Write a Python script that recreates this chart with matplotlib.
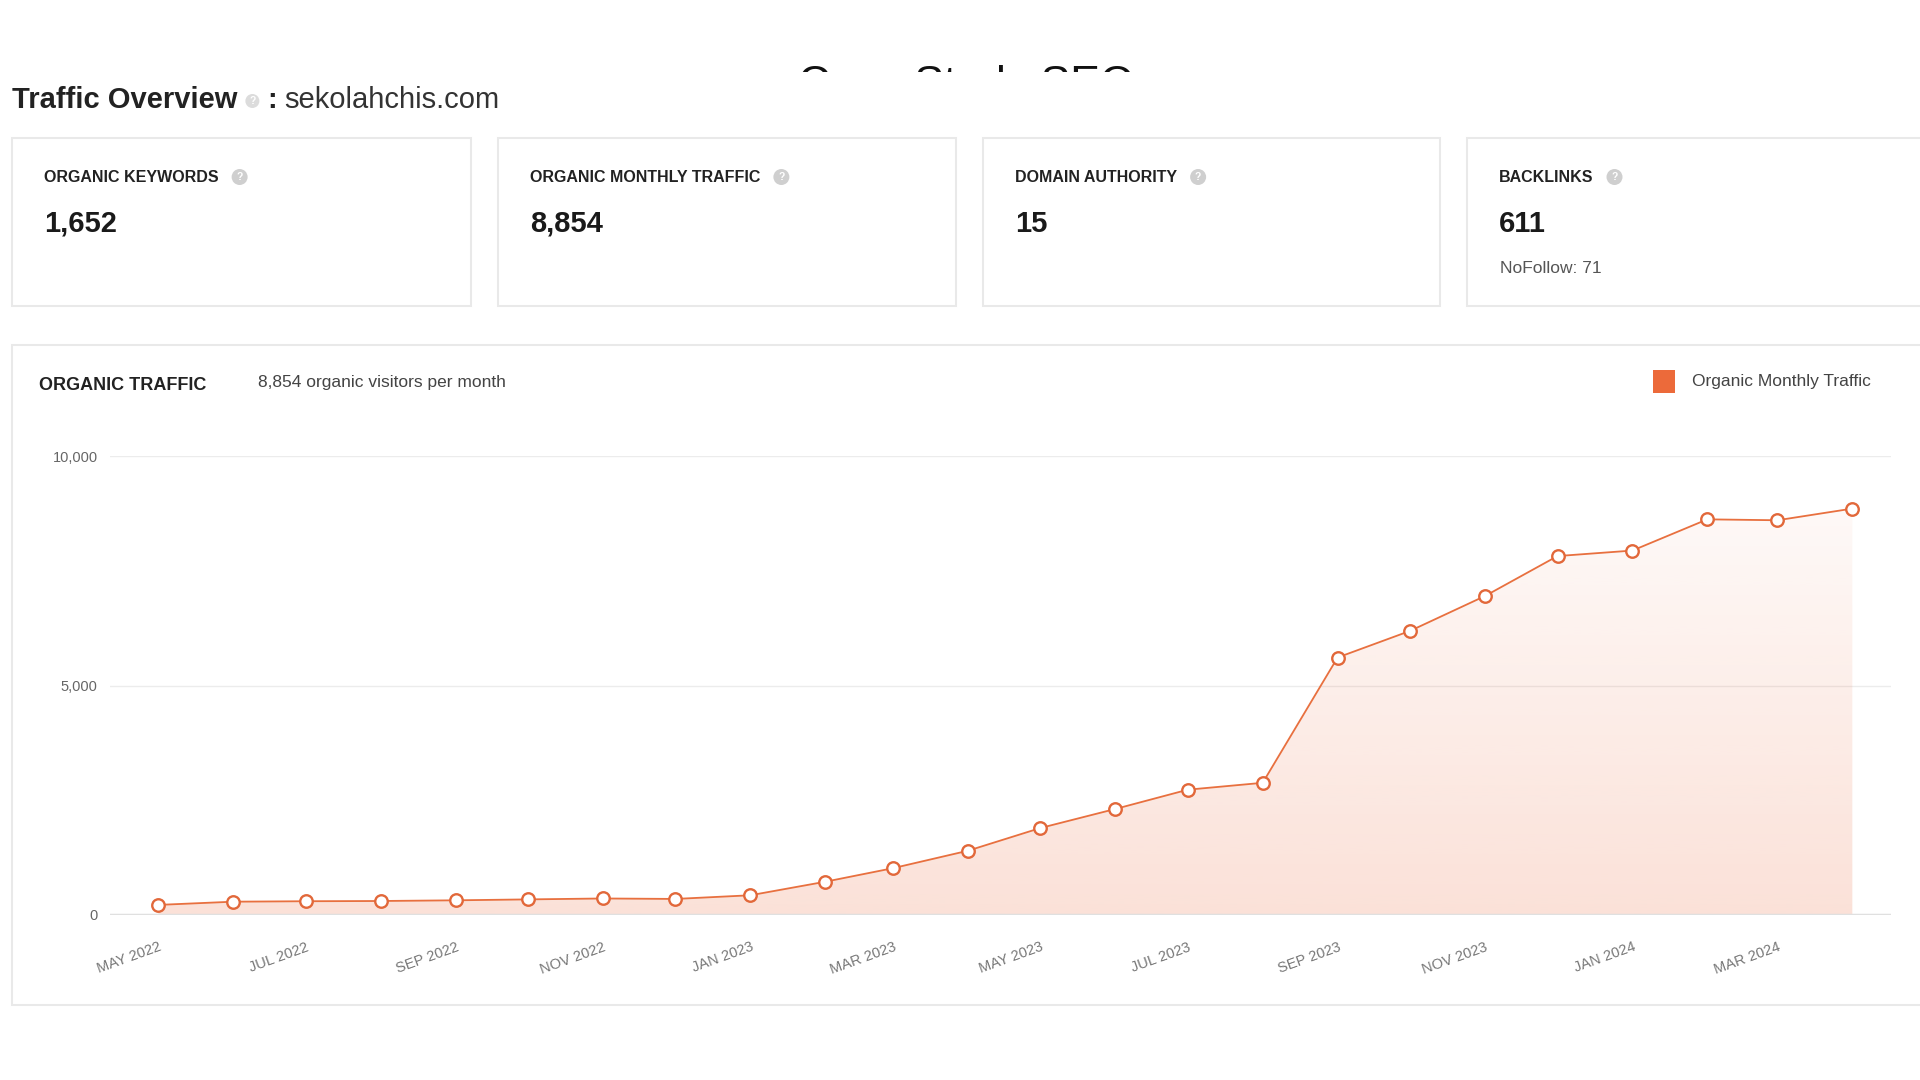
"""
  Ubersuggest-style traffic overview for sekolahchis.com
"""
import matplotlib
matplotlib.use('Agg')
import matplotlib.pyplot as plt
from matplotlib.patches import Rectangle, Circle
import matplotlib.dates as mdates
import numpy as np

plt.rcParams['font.family'] = ['Liberation Sans', 'DejaVu Sans']

# monthly organic traffic
months = ['2022-05', '2022-06', '2022-07', '2022-08', '2022-09', '2022-10',
          '2022-11', '2022-12', '2023-01', '2023-02', '2023-03', '2023-04',
          '2023-05', '2023-06', '2023-07', '2023-08', '2023-09', '2023-10',
          '2023-11', '2023-12', '2024-01', '2024-02', '2024-03', '2024-04']
traffic = [220, 290, 300, 305, 320, 340, 360, 350, 430, 725, 1020, 1400,
           1895, 2310, 2730, 2880, 5610, 6190, 6950, 7820, 7940, 8620, 8600, 8854]
tick_labels = ['MAY 2022', 'JUL 2022', 'SEP 2022', 'NOV 2022', 'JAN 2023', 'MAR 2023',
               'MAY 2023', 'JUL 2023', 'SEP 2023', 'NOV 2023', 'JAN 2024', 'MAR 2024']
y_ticks = [0, 5000, 10000]
y_tick_labels = ['0', '5,000', '10,000']

card_titles = ['ORGANIC KEYWORDS', 'ORGANIC MONTHLY TRAFFIC', 'DOMAIN AUTHORITY', 'BACKLINKS']
card_values = ['1,652', '8,854', '15', '611']
nofollow = 'NoFollow: 71'

ORANGE = '#e8703f'
BORDER = '#e9e9e9'
W, H = 1920, 1080

fig = plt.figure(figsize=(W / 100, H / 100), dpi=100, facecolor='white')

# background axes in pixel coords (y down) for cards and texts
bg = fig.add_axes([0, 0, 1, 1])
bg.set_xlim(0, W)
bg.set_ylim(H, 0)
bg.axis('off')
renderer = fig.canvas.get_renderer()


def text_right(t):
    bb = t.get_window_extent(renderer)
    return bg.transData.inverted().transform((bb.x1, bb.y0))[0]


def help_icon(x, y, r=8, color='#cfcfcf'):
    bg.add_patch(Circle((x, y), r, facecolor=color, edgecolor='none', zorder=3))
    bg.text(x, y + 0.5, '?', fontsize=7.5, color='white', fontweight='bold',
            ha='center', va='center', zorder=4)


# clipped header text at the very top
bg.text(966, 65, 'Case Study SEO', fontsize=32, ha='center', va='top', color='#111')
bg.add_patch(Rectangle((740, 72), 460, 60, facecolor='white', edgecolor='none', zorder=5))

# page title
t = bg.text(12, 108, 'Traffic Overview', fontsize=21, fontweight='bold',
            color='#222', va='baseline')
xr = text_right(t)
help_icon(xr + 15, 101, r=7, color='#dcdcdc')
t = bg.text(xr + 30, 108, ':', fontsize=21, fontweight='bold', color='#222', va='baseline')
bg.text(text_right(t) + 7, 108, 'sekolahchis.com', fontsize=21, color='#333', va='baseline')

# metric cards
card_x = [12, 498, 983, 1467]
card_w = [459, 458, 457, 600]
for x0, w, title, value in zip(card_x, card_w, card_titles, card_values):
    bg.add_patch(Rectangle((x0, 138), w, 168, facecolor='white', edgecolor=BORDER, lw=1.5))
    t = bg.text(x0 + 32, 182.5, title, fontsize=11.5, fontweight='bold', color='#222', va='baseline')
    help_icon(text_right(t) + 21, 177)
    bg.text(x0 + 32, 231.5, value, fontsize=21, fontweight='bold', color='#1a1a1a', va='baseline')
bg.text(card_x[3] + 33, 273, nofollow, fontsize=12.5, color='#555', va='baseline')

# chart card
bg.add_patch(Rectangle((12, 345), 2000, 660, facecolor='white', edgecolor=BORDER, lw=1.5))
bg.text(39, 390, 'ORGANIC TRAFFIC', fontsize=13, fontweight='bold', color='#222', va='baseline')
bg.text(258, 387.5, '8,854 organic visitors per month', fontsize=12.5, color='#444', va='baseline')
bg.add_patch(Rectangle((1653, 370), 22, 23, facecolor='#ec6a3a', edgecolor='none'))
bg.text(1692, 386, 'Organic Monthly Traffic', fontsize=12.5, color='#444', va='baseline')

# chart axes
left, right, top, bottom = 110, 1891, 456, 915
ax = fig.add_axes([left / W, (H - bottom) / H, (right - left) / W, (bottom - top) / H])
ax.set_facecolor('none')
for s in ax.spines.values():
    s.set_visible(False)

dates = np.array(months, dtype='datetime64[M]').astype('datetime64[D]')
xnum = mdates.date2num(dates)

ax.plot(dates, traffic, color=ORANGE, lw=1.3, marker='o', ms=9, mfc='white',
        mec='#e2683a', mew=1.7, zorder=4, clip_on=False)

# gradient fill under the line
poly = ax.fill_between(dates, traffic, 0, color='none')
n = 256
rgba = np.zeros((n, 1, 4))
rgba[..., 0] = 235 / 255
rgba[..., 1] = 105 / 255
rgba[..., 2] = 60 / 255
rgba[..., 3] = np.linspace(0.2, 0.02, n)[:, None]
im = ax.imshow(rgba, extent=[xnum[0], xnum[-1], 0, 10000], origin='lower',
               aspect='auto', zorder=1, interpolation='bilinear')
im.set_clip_path(poly.get_paths()[0], transform=ax.transData)

for yv in y_ticks[1:]:
    ax.axhline(yv, color='#ececec', lw=1, zorder=0)
ax.axhline(0, color='#e0e0e0', lw=2.5, zorder=2)

ax.set_xlim(dates[0] - np.timedelta64(20, 'D'), dates[-1] + np.timedelta64(16, 'D'))
ax.set_ylim(0, 10000)

ax.set_yticks(y_ticks, y_tick_labels)
ax.tick_params(axis='y', length=0, pad=9, labelsize=10.5, labelcolor='#666')
ax.set_xticks(dates[::2], tick_labels)
ax.tick_params(axis='x', length=0, pad=18, labelsize=10.5, labelcolor='#777')
plt.setp(ax.get_xticklabels(), rotation=20, ha='right', rotation_mode='anchor')

fig.savefig('out.png', dpi=100, facecolor='white')
